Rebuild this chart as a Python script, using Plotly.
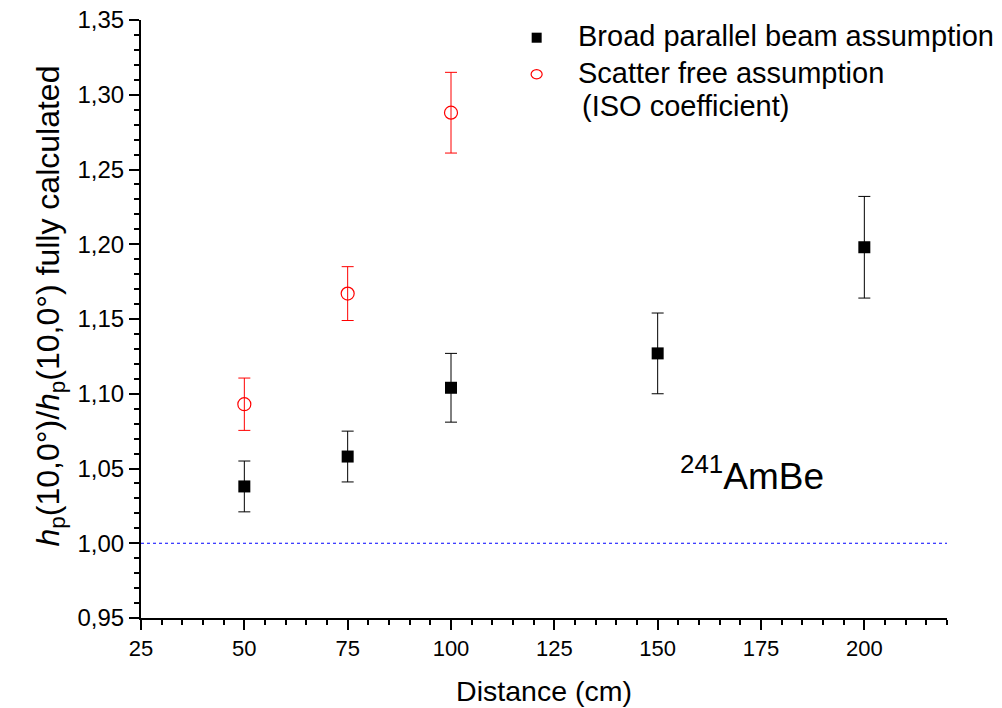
import plotly.graph_objects as go

# Data
dist_broad = [50, 75, 100, 150, 200]
ratio_broad = [1.038, 1.058, 1.104, 1.127, 1.198]
err_broad = [0.017, 0.017, 0.023, 0.027, 0.034]

dist_free = [50, 75, 100]
ratio_free = [1.093, 1.167, 1.288]
err_free = [0.0175, 0.018, 0.027]

name_broad = "Broad parallel beam assumption"
name_free = ["Scatter free assumption", "(ISO coefficient)"]

FONT = "Liberation Sans, Arial, sans-serif"

fig = go.Figure()
fig.add_trace(go.Scatter(
    x=dist_broad, y=ratio_broad, mode="markers", name=name_broad, showlegend=False,
    marker=dict(symbol="square", size=12, color="black"),
    error_y=dict(type="data", array=err_broad, color="black", thickness=1, width=6),
))
fig.add_trace(go.Scatter(
    x=dist_free, y=ratio_free, mode="markers", name=" ".join(name_free), showlegend=False,
    marker=dict(symbol="circle-open", size=13, color="red", line=dict(width=1.2, color="red")),
    error_y=dict(type="data", array=err_free, color="red", thickness=1, width=6),
))

# reference line at 1.00
fig.add_shape(type="line", xref="paper", yref="y", x0=0, x1=1, y0=1.0, y1=1.0,
              line=dict(color="#0000ff", width=1, dash="dot"), layer="below")

# manual legend (symbols + labels)
fig.add_shape(type="rect", xref="paper", yref="paper", x0=0.4847, x1=0.4971, y0=0.9620, y1=0.9788,
              fillcolor="black", line=dict(width=0))
fig.add_shape(type="circle", xref="paper", yref="paper", x0=0.4840, x1=0.4977, y0=0.9015, y1=0.9170,
              fillcolor="rgba(0,0,0,0)", line=dict(color="red", width=1.2))
fig.add_annotation(x=0.5397, y=0.9736, xref="paper", yref="paper", text=name_broad,
                   showarrow=False, xanchor="left", yanchor="middle",
                   font=dict(family=FONT, size=29, color="black"))
fig.add_annotation(x=0.5397, y=0.9108, xref="paper", yref="paper", text=name_free[0],
                   showarrow=False, xanchor="left", yanchor="middle",
                   font=dict(family=FONT, size=29, color="black"))
fig.add_annotation(x=0.5447, y=0.8569, xref="paper", yref="paper", text=name_free[1],
                   showarrow=False, xanchor="left", yanchor="middle",
                   font=dict(family=FONT, size=29, color="black"))

# source label
fig.add_annotation(x=154.9, y=1.0467, xref="x", yref="y", text="<sup>241</sup>AmBe",
                   showarrow=False, xanchor="left", yanchor="middle",
                   font=dict(family=FONT, size=37, color="black"))

# y axis title (rotated annotation to match its offset)
fig.add_annotation(x=-0.1129, y=0.5209, xref="paper", yref="paper",
                   text="<i>h</i><sub>p</sub>(10,0°)/<i>h</i><sub>p</sub>(10,0°) fully calculated",
                   textangle=-90, showarrow=False, xanchor="center", yanchor="middle",
                   font=dict(family=FONT, size=32, color="black"))

fig.update_layout(
    width=1002, height=708,
    margin=dict(l=141, r=55, t=20, b=90),
    paper_bgcolor="white", plot_bgcolor="white",
    separators=",.",
    font=dict(family=FONT, color="black"),
    showlegend=False,
    xaxis=dict(range=[25, 220], tickmode="linear", tick0=25, dtick=25, automargin=False,
               showline=True, linecolor="black", linewidth=2, mirror=False,
               ticks="outside", ticklen=10, tickwidth=2, tickcolor="black",
               minor=dict(dtick=5, ticks="outside", ticklen=5, tickwidth=2, tickcolor="black"),
               showgrid=False, zeroline=False,
               tickfont=dict(size=22, family=FONT),
               title=dict(text="Distance (cm)", font=dict(size=28.5, family=FONT), standoff=21)),
    yaxis=dict(range=[0.95, 1.35], tickmode="linear", tick0=0.95, dtick=0.05, automargin=False,
               tickformat=".2f",
               showline=True, linecolor="black", linewidth=2, mirror=False,
               ticks="outside", ticklen=10, tickwidth=2, tickcolor="black",
               minor=dict(dtick=0.01, ticks="outside", ticklen=5, tickwidth=2, tickcolor="black"),
               showgrid=False, zeroline=False,
               tickfont=dict(size=24, family=FONT)),
)

fig.write_html("out.html")
